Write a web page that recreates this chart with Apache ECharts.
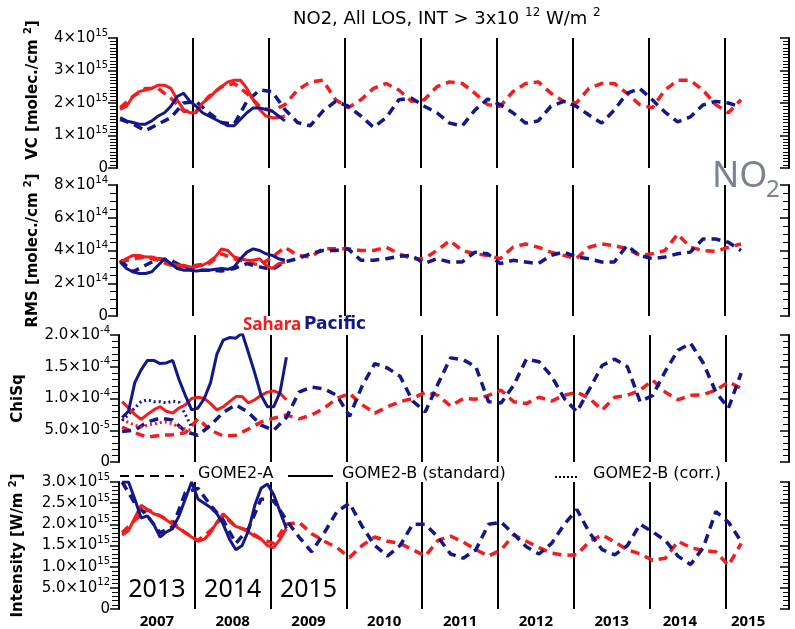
<!DOCTYPE html>
<html><head><meta charset="utf-8">
<script src="https://cdn.jsdelivr.net/npm/echarts@6/dist/echarts.min.js"></script>
<style>html,body{margin:0;padding:0;background:#fff}#c{width:795px;height:629px}</style>
</head><body><div id="c"></div>
<script>
// ---------------- DATA ----------------
// GOME2-A (dashed), bimonthly samples Jan 2007 .. Mar 2015
const vcSaharaA = [1.85,2.2,2.45,2.45,2.15,1.75, 1.75,2.2,2.5,2.6,2.3,1.9, 1.75,1.95,2.4,2.65,2.7,2.1, 1.85,2.1,2.45,2.6,2.4,2.05, 2.1,2.5,2.65,2.6,2.3,1.95, 1.9,2.35,2.6,2.65,2.3,2.05, 2.0,2.45,2.6,2.6,2.3,1.95, 1.85,2.4,2.7,2.7,2.4,1.95, 1.7,2.1];
const vcPacificA = [1.5,1.35,1.15,1.35,1.55,2.0, 2.05,1.7,1.4,1.35,2.05,2.4, 2.35,1.8,1.4,1.3,1.75,2.05, 1.9,1.6,1.25,1.55,2.1,2.15, 1.9,1.7,1.38,1.3,1.78,2.12, 1.95,1.7,1.38,1.45,1.9,2.05, 1.9,1.63,1.38,1.78,2.3,2.45, 2.1,1.72,1.42,1.57,1.94,2.05, 2.0,1.88];
const rmsSaharaA = [3.3,3.5,3.6,3.4,3.1,3.0, 3.1,3.2,3.8,3.5,3.3,3.1, 3.6,4.2,3.7,3.6,4.1,4.1, 4.1,4.0,4.0,4.2,3.8,3.5, 3.5,4.0,4.6,4.0,3.8,3.7, 3.5,4.2,4.4,4.2,3.9,3.7, 3.5,4.2,4.4,4.3,4.1,3.7, 3.8,4.0,5.0,4.2,4.0,3.95, 4.2,4.4];
const rmsPacificA = [3.4,2.7,3.1,3.5,3.4,3.0, 2.8,2.8,2.75,2.9,3.2,3.0, 2.85,3.3,3.5,3.8,4.0,4.0, 4.1,3.4,3.4,3.5,3.65,3.7, 3.2,3.5,3.3,3.3,3.9,3.8, 3.2,3.4,3.3,3.2,3.7,3.9, 3.6,3.5,3.3,3.3,4.3,3.7, 3.5,3.6,3.8,3.9,4.7,4.7, 4.5,4.0];
const chiSaharaA = [5.5,4.6,3.9,4.2,4.3,4.6, 6.8,5.0,4.1,4.2,5.2,6.3, 6.9,7.4,6.8,7.4,8.5,10.0, 10.8,9.0,7.7,8.7,9.5,10.0, 11.0,10.5,8.8,10.0,9.9,10.5, 11.3,9.5,9.2,10.2,9.6,10.5, 11.0,10.0,8.2,10.2,10.5,11.3, 12.9,11.0,9.8,10.5,10.6,11.3, 12.6,11.6];
const chiPacificA = [4.8,5.0,6.3,6.9,6.6,4.8, 4.2,5.8,7.8,9.0,7.8,5.8, 5.0,7.0,11.0,11.8,11.5,10.5, 7.2,12.0,15.5,14.8,13.5,9.6, 7.9,12.3,16.4,16.1,15.0,9.5, 9.3,12.1,16.2,15.8,13.5,10.0, 7.9,11.5,15.2,16.2,15.0,9.5, 10.5,14.3,17.6,18.7,15.6,11.0, 8.5,14.0];
const intSaharaA = [1.8,2.1,2.35,2.2,2.05,1.8, 1.62,1.85,2.2,1.95,1.85,1.65, 1.55,2.0,2.05,1.78,1.6,1.45, 1.22,1.5,1.7,1.6,1.55,1.4, 1.25,1.62,1.72,1.58,1.4,1.25, 1.4,1.75,1.6,1.45,1.32,1.27, 1.28,1.6,1.75,1.58,1.4,1.3, 1.15,1.2,1.6,1.45,1.38,1.35, 1.03,1.55];
const intPacificA = [3.0,2.5,2.2,1.8,1.95,2.75, 2.85,2.45,2.1,1.55,1.9,2.6, 2.55,2.1,1.7,1.35,1.8,2.3, 2.5,1.95,1.5,1.25,1.5,2.0, 2.0,1.7,1.3,1.2,1.4,2.0, 2.05,1.77,1.47,1.3,1.55,2.0, 2.35,1.8,1.4,1.28,1.5,2.0, 1.82,1.62,1.25,1.05,1.45,2.3, 2.05,1.6];

// GOME2-B standard (solid), monthly Jan 2013 .. Mar 2015, drawn in the 2007-2009 slots
const vcSaharaB = [1.8,1.9,2.2,2.35,2.4,2.45,2.55,2.55,2.45,2.1,1.8,1.7, 1.7,2.0,2.15,2.35,2.5,2.65,2.7,2.7,2.45,2.1,1.8,1.6, 1.55,1.55,1.6];
const vcPacificB = [1.55,1.45,1.4,1.35,1.35,1.45,1.6,1.7,1.9,2.2,2.3,2.05, 1.9,1.7,1.6,1.5,1.4,1.3,1.3,1.5,1.7,1.85,1.85,1.8, 1.75,1.6,1.45];
const rmsSaharaB = [3.3,3.5,3.7,3.7,3.6,3.6,3.5,3.4,3.2,3.1,3.1,3.0, 3.0,3.1,3.3,3.6,4.1,4.0,3.6,3.5,3.4,3.4,3.5,3.1, 2.9,3.2,3.3];
const rmsPacificB = [3.3,2.9,2.7,2.6,2.6,2.7,3.1,3.5,3.2,2.9,2.8,2.8, 2.75,2.8,2.8,2.85,2.9,2.85,3.0,3.5,3.9,4.1,4.0,3.8, 3.7,3.5,3.4];
const chiSaharaB = [9.5,8.5,7.5,6.7,7.5,8.2,8.7,8.0,7.7,8.5,9.0,10.0, 10.2,10.0,9.2,8.2,8.7,9.5,10.3,10.3,9.3,9.8,10.5,11.0, 11.2,10.8,9.8];
const chiPacificB = [7.0,8.0,12.5,14.5,16.0,16.0,15.5,15.6,16.0,13.0,10.5,8.2, 8.5,10.0,12.5,17.0,19.2,19.6,19.5,20.3,17.2,14.0,10.5,8.7, 8.7,11.0,16.5];
const intSaharaB = [1.75,1.85,2.15,2.45,2.35,2.25,2.2,2.1,2.0,1.9,1.8,1.7, 1.6,1.65,1.8,2.05,2.25,2.1,1.95,1.9,1.82,1.72,1.65,1.5, 1.45,1.65,1.9];
const intPacificB = [3.0,3.0,2.6,2.15,2.2,2.0,1.7,1.82,1.9,2.2,2.6,3.0, 2.6,2.5,2.4,2.25,2.0,1.65,1.4,1.5,1.85,2.45,2.85,2.95, 2.7,2.3,1.9];

// GOME2-B corrected (dotted), monthly 2013, ChiSq only
const chiSaharaCorr = [6.8,6.2,5.8,5.5,5.8,6.0,6.2,6.3,6.0,5.5,5.2,5.0];
const chiPacificCorr = [6.5,7.5,8.5,9.5,9.8,9.5,9.5,9.3,9.6,9.4,7.5,5.5];

// tick labels
const vcTickLabels  = ['0','1×10^15','2×10^15','3×10^15','4×10^15'];
const rmsTickLabels = ['0','2×10^14','4×10^14','6×10^14','8×10^14'];
const chiTickLabels = ['0','5.0×10^-5','1.0×10^-4','1.5×10^-4','2.0×10^-4'];
const intTickLabels = ['0','5.0×10^12','1.0×10^15','1.5×10^15','2.0×10^15','2.5×10^15','3.0×10^15'];
const xLabels = ['2007','2008','2009','2010','2011','2012','2013','2014','2015'];
const xLabelValues = [2007.5,2008.5,2009.5,2010.5,2011.5,2012.5,2013.5,2014.4,2015.3];
const bYearLabels = ['2013','2014','2015'];
const bYearValues = [2007.5,2008.5,2009.5];

// time grids
const timesA = []; for (let k = 0; k < 50; k++) timesA.push(2007 + (2*k + 0.5)/12);
const timesB = []; for (let k = 0; k < 27; k++) timesB.push(2007 + (k + 0.5)/12);
const timesCorr = timesB.slice(0, 12);

// ---------------- CHART ----------------
const RED = '#f41c1c', NAVY = '#12188a';
const FONT = '"Noto Sans", "DejaVu Sans", sans-serif';
const DJ = '"DejaVu Sans", sans-serif';
const chart = echarts.init(document.getElementById('c'), null, {renderer: 'canvas'});

const grids = [
  {left: 117, right: 6, top: 38, height: 130},
  {left: 117, right: 6, top: 185, height: 131},
  {left: 117, right: 6, top: 335, height: 127},
  {left: 117, right: 6, top: 482, height: 129}
];

function supFmt(s) { return s.replace(/\^(\S+)/, '{s|$1}'); }

const yDefs = [
  {max: 4, interval: 1, labels: vcTickLabels, minor: 10, name: 'VC [molec./cm {s|2}]', gap: 74, pad: [0, 0, 0, 26]},
  {max: 8, interval: 2, labels: rmsTickLabels, minor: 4, name: 'RMS [molec./cm {s|2}]', gap: 74, pad: [0, 0, 0, 0]},
  {max: 20, interval: 5, labels: chiTickLabels, minor: 5, name: 'ChiSq', gap: 91, pad: [0, 0, 0, 0]},
  {max: 3, interval: 0.5, labels: intTickLabels, minor: 5, name: 'Intensity [W/m {s|2}]', gap: 91, pad: [0, 0, 0, 0]}
];

const xAxes = grids.map((g, i) => ({
  type: 'value', gridIndex: i, min: 2007, max: 2015.84, interval: 1,
  axisLine: {show: false}, axisTick: {show: false},
  splitLine: {show: true, lineStyle: {color: '#000', width: 2}},
  axisLabel: i === 3 ? {
    show: true, customValues: xLabelValues, margin: 5,
    color: '#000', fontSize: 15, fontWeight: 'bold', fontFamily: FONT,
    formatter: v => { const j = xLabelValues.findIndex(x => Math.abs(x - v) < 1e-6); return j >= 0 ? xLabels[j] : ''; }
  } : {show: false}
}));

const yAxes = [];
yDefs.forEach((d, i) => {
  yAxes.push({
    type: 'value', gridIndex: i, position: 'left', min: 0, max: d.max, interval: d.interval,
    axisLine: {show: true, lineStyle: {color: '#000', width: 2}},
    axisTick: {show: true, length: 9, lineStyle: {color: '#000', width: 1.5}},
    minorTick: {show: true, splitNumber: d.minor, length: 7, lineStyle: {color: '#000', width: 1}},
    splitLine: {show: false},
    axisLabel: {
      margin: 9, color: '#000', fontSize: 15, fontFamily: DJ, lineHeight: 20,
      formatter: v => supFmt(d.labels[Math.round(v / d.interval)] || ''),
      rich: {s: {fontSize: 10, fontFamily: DJ, color: '#000', verticalAlign: 'top', lineHeight: 12}}
    },
    name: d.name, nameLocation: 'middle', nameGap: d.gap,
    nameTextStyle: {color: '#000', fontSize: 15, fontWeight: 'bold', fontFamily: DJ, lineHeight: 20, padding: d.pad,
      rich: {s: {fontSize: 10, fontWeight: 'bold', fontFamily: DJ, color: '#000', verticalAlign: 'top', lineHeight: 12}}}
  });
});
yDefs.forEach((d, i) => {
  yAxes.push({
    type: 'value', gridIndex: i, position: 'right', min: 0, max: d.max, interval: d.interval,
    axisLine: {show: true, lineStyle: {color: '#000', width: 2}},
    axisTick: {show: true, inside: true, length: 9, lineStyle: {color: '#000', width: 1.5}},
    minorTick: {show: true, splitNumber: d.minor, length: 6, lineStyle: {color: '#000', width: 1}},
    splitLine: {show: false}, axisLabel: {show: false}
  });
});

function pairs(times, vals) { return vals.map((v, i) => [times[i], v]); }
function ser(g, times, vals, color, style, z) {
  const ls = style === 'dash' ? {type: [9, 6], width: 3.5} : style === 'dot' ? {type: [2, 3], width: 3} : {type: 'solid', width: 3};
  return {type: 'line', xAxisIndex: g, yAxisIndex: g, data: pairs(times, vals), symbol: 'none', silent: true,
    lineStyle: Object.assign({color: color, cap: 'butt'}, ls), z: z, animation: false, clip: true};
}

const series = [
  ser(0, timesA, vcSaharaA, RED, 'dash', 2), ser(0, timesA, vcPacificA, NAVY, 'dash', 2),
  ser(0, timesB, vcSaharaB, RED, 'solid', 3), ser(0, timesB, vcPacificB, NAVY, 'solid', 3),
  ser(1, timesA, rmsSaharaA, RED, 'dash', 2), ser(1, timesA, rmsPacificA, NAVY, 'dash', 2),
  ser(1, timesB, rmsSaharaB, RED, 'solid', 3), ser(1, timesB, rmsPacificB, NAVY, 'solid', 3),
  ser(2, timesA, chiSaharaA, RED, 'dash', 2), ser(2, timesA, chiPacificA, NAVY, 'dash', 2),
  ser(2, timesCorr, chiSaharaCorr, RED, 'dot', 2), ser(2, timesCorr, chiPacificCorr, NAVY, 'dot', 2),
  ser(2, timesB, chiSaharaB, RED, 'solid', 3), ser(2, timesB, chiPacificB, NAVY, 'solid', 3),
  ser(3, timesA, intSaharaA, RED, 'dash', 2), ser(3, timesA, intPacificA, NAVY, 'dash', 2),
  ser(3, timesB, intSaharaB, RED, 'solid', 3), ser(3, timesB, intPacificB, NAVY, 'solid', 3)
];

chart.setOption({
  animation: false,
  backgroundColor: '#fff',
  title: {
    text: 'NO2, All LOS, INT > 3x10 {s|12} W/m {s|2}', left: 288, top: 2,
    textStyle: {color: '#000', fontSize: 18, fontWeight: 'normal', fontFamily: DJ, lineHeight: 24,
      rich: {s: {fontSize: 12, fontFamily: DJ, color: '#000', verticalAlign: 'top', lineHeight: 14}}}
  },
  grid: grids, xAxis: xAxes, yAxis: yAxes, series: series
});

// annotations
const gfx = [];
bYearLabels.forEach((t, i) => {
  const p = chart.convertToPixel({gridIndex: 3}, [bYearValues[i], 0.45]);
  gfx.push({type: 'text', x: p[0], y: p[1], z: 10, style: {text: t, fill: '#000', font: '25px ' + FONT, align: 'center', verticalAlign: 'middle'}});
});
gfx.push(
  {type: 'text', x: 243, y: 325, z: 10, style: {text: 'Sahara', fill: RED, font: 'bold 17px ' + FONT, align: 'left', verticalAlign: 'middle'}},
  {type: 'text', x: 304, y: 325, z: 10, style: {text: 'Pacific', fill: NAVY, font: 'bold 17px ' + DJ, align: 'left', verticalAlign: 'middle'}},
  {type: 'line', z: 10, shape: {x1: 120, y1: 476, x2: 184, y2: 476}, style: {stroke: '#000', lineWidth: 2, lineDash: [9, 6]}},
  {type: 'text', x: 198, y: 474, z: 10, style: {text: 'GOME2-A', fill: '#000', font: '16px ' + DJ, align: 'left', verticalAlign: 'middle'}},
  {type: 'line', z: 10, shape: {x1: 288, y1: 476, x2: 333, y2: 476}, style: {stroke: '#000', lineWidth: 2}},
  {type: 'text', x: 342, y: 474, z: 10, style: {text: 'GOME2-B (standard)', fill: '#000', font: '16px ' + DJ, align: 'left', verticalAlign: 'middle'}},
  {type: 'line', z: 10, shape: {x1: 555, y1: 477, x2: 579, y2: 477}, style: {stroke: '#000', lineWidth: 2, lineDash: [2, 2]}},
  {type: 'text', x: 593, y: 474, z: 10, style: {text: 'GOME2-B (corr.)', fill: '#000', font: '16px ' + DJ, align: 'left', verticalAlign: 'middle'}},
  {type: 'text', x: 712, y: 177, z: 10, style: {text: 'NO', fill: '#7b8391', font: '36px ' + FONT, align: 'left', verticalAlign: 'middle'}},
  {type: 'text', x: 766, y: 190, z: 10, style: {text: '2', fill: '#7b8391', font: '24px ' + FONT, align: 'left', verticalAlign: 'middle'}}
);
chart.setOption({graphic: gfx});
</script></body></html>
